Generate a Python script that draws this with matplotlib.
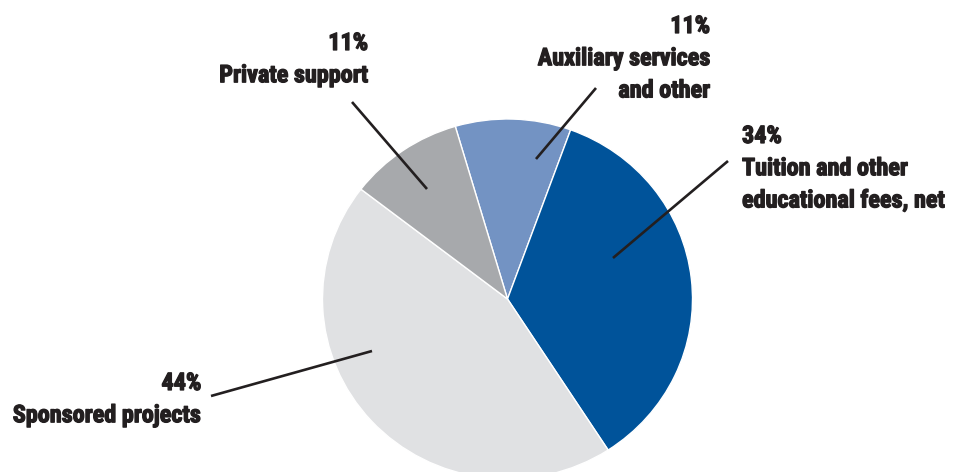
import matplotlib
matplotlib.use('Agg')
import matplotlib.pyplot as plt
from matplotlib import font_manager
import matplotlib.patheffects as pe

W, H = 955, 472

# slice order, clockwise from the top
categories = ['Auxiliary services and other', 'Tuition and other educational fees, net',
              'Sponsored projects', 'Private support']
shares = [10.1, 35.3, 44.6, 10.0]
pct_labels = ['11%', '34%', '44%', '11%']
label_lines = [['Auxiliary services', 'and other'],
               ['Tuition and other', 'educational fees, net'],
               ['Sponsored projects'],
               ['Private support']]
colors = ['#7393C3', '#00539A', '#E0E1E3', '#A7A9AC']

# label layout in pixels: anchor x, first baseline y, alignment, leader line (x0, y0, x1, y1)
label_pos = [(710, 33, 'right', (596, 88, 536, 159)),
             (742, 143, 'left', (728, 161, 613, 258)),
             (201, 390, 'right', (211, 396, 372, 351)),
             (368, 50, 'right', (352, 102, 427, 189))]

fam = 'DejaVu Sans'
for f in ['Liberation Sans Narrow', 'Roboto Condensed', 'Liberation Sans']:
    try:
        font_manager.findfont(f, fallback_to_default=False)
        fam = f
        break
    except Exception:
        pass

txt_color = '#231F20'
fig = plt.figure(figsize=(W / 100, H / 100), dpi=100)

# pie axes (slightly squashed vertically, as in the original)
cx, cy, rx, ry = 507.5, 299, 185, 180
ax = fig.add_axes([(cx - rx) / W, (H - cy - ry) / H, 2 * rx / W, 2 * ry / H])
ax.pie(shares, colors=colors, startangle=106.4, counterclock=False,
       wedgeprops=dict(edgecolor='white', linewidth=1.0))
ax.set_aspect('auto')
ax.set_xlim(-1, 1)
ax.set_ylim(-1, 1)
ax.axis('off')

# overlay for labels and leader lines, pixel coordinates
ov = fig.add_axes([0, 0, 1, 1])
ov.set_xlim(0, W)
ov.set_ylim(H, 0)
ov.patch.set_alpha(0)
ov.axis('off')

# thin stroke to get closer to the heavy condensed face of the original
heavy = [pe.withStroke(linewidth=0.9, foreground=txt_color)]
step = 32.2
for pct, lines, (x, y, ha, ln) in zip(pct_labels, label_lines, label_pos):
    for i, t in enumerate([pct] + lines):
        ov.text(x, y + i * step, t, ha=ha, va='baseline', fontsize=17.4,
                fontweight='bold', family=fam, color=txt_color, path_effects=heavy)
    ov.plot([ln[0], ln[2]], [ln[1], ln[3]], color=txt_color, lw=1.9,
            solid_capstyle='butt')

fig.savefig('out.png', dpi=100)
